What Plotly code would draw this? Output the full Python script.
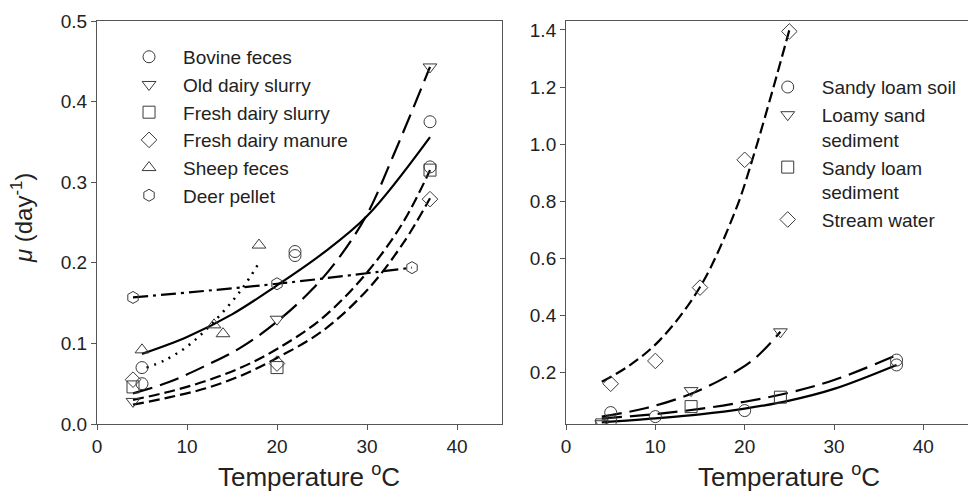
import plotly.graph_objects as go

# ---------------- Left panel: animal wastes ----------------
bovine_T = [5, 5, 22, 22, 37, 37]
bovine_mu = [0.070, 0.050, 0.214, 0.209, 0.375, 0.319]
old_slurry_T = [4, 20, 37]
old_slurry_mu = [0.028, 0.130, 0.443]
fresh_slurry_T = [4, 20, 37]
fresh_slurry_mu = [0.046, 0.070, 0.315]
fresh_manure_T = [4, 20, 37]
fresh_manure_mu = [0.055, 0.075, 0.279]
sheep_T = [5, 13, 14, 18]
sheep_mu = [0.092, 0.123, 0.112, 0.222]
deer_T = [4, 20, 35]
deer_mu = [0.157, 0.174, 0.194]

# fitted growth-rate curves (left)
bovine_fit_T = [5, 10, 15, 20, 25, 30, 37]
bovine_fit_mu = [0.087, 0.108, 0.136, 0.172, 0.211, 0.258, 0.356]
old_slurry_fit_T = [4, 8, 12, 16, 20, 24, 27, 30, 33, 37]
old_slurry_fit_mu = [0.038, 0.052, 0.072, 0.095, 0.127, 0.168, 0.208, 0.260, 0.335, 0.443]
fresh_slurry_fit_T = [4, 8, 12, 16, 20, 25, 30, 34, 37]
fresh_slurry_fit_mu = [0.030, 0.040, 0.053, 0.070, 0.093, 0.131, 0.188, 0.250, 0.315]
fresh_manure_fit_T = [4, 8, 12, 16, 20, 25, 30, 34, 37]
fresh_manure_fit_mu = [0.024, 0.033, 0.044, 0.060, 0.082, 0.115, 0.166, 0.224, 0.280]
sheep_fit_T = [5.5, 7.5, 10, 13, 16, 18]
sheep_fit_mu = [0.070, 0.079, 0.096, 0.127, 0.166, 0.200]
deer_fit_T = [4, 20, 35]
deer_fit_mu = [0.157, 0.174, 0.194]

# ---------------- Right panel: soils, sediments, water ----------------
soil_T = [5, 5, 10, 20, 37, 37]
soil_mu = [0.059, 0.030, 0.045, 0.066, 0.243, 0.226]
loamy_T = [4, 14, 24]
loamy_mu = [0.020, 0.136, 0.342]
sediment_T = [4, 14, 24]
sediment_mu = [0.016, 0.080, 0.113]
stream_T = [5, 10, 15, 20, 25]
stream_mu = [0.160, 0.240, 0.497, 0.945, 1.395]

soil_fit_T = [4, 10, 15, 20, 25, 30, 37]
soil_fit_mu = [0.025, 0.039, 0.053, 0.073, 0.101, 0.142, 0.226]
loamy_fit_T = [4, 9, 14, 18, 21, 24]
loamy_fit_mu = [0.045, 0.075, 0.125, 0.185, 0.245, 0.342]
sediment_fit_T = [4, 10, 15, 20, 25, 30, 37]
sediment_fit_mu = [0.038, 0.054, 0.072, 0.097, 0.129, 0.173, 0.260]
stream_fit_T = [4, 7, 10.5, 15, 19, 21, 23.2, 25]
stream_fit_mu = [0.167, 0.222, 0.313, 0.499, 0.770, 0.960, 1.197, 1.400]

left_names = ["Bovine feces", "Old dairy slurry", "Fresh dairy slurry",
              "Fresh dairy manure", "Sheep feces", "Deer pellet"]
right_names = ["Sandy loam soil", "Loamy sand<br>sediment",
               "Sandy loam<br>sediment", "Stream water"]

FONT = "Liberation Sans, Arial, sans-serif"
INK = "#222222"
MARK = "#3a3a3a"
AXIS = "#555555"

LONG = "20px,8px"
MED = "11px,5px"
DASHDOT = "15px,5px,3px,5px"
DOT = "2px,6px"

fig = go.Figure()


def add_fit(T, mu, dash, xa, ya, width=2.2):
    fig.add_trace(go.Scatter(
        x=T, y=mu, mode="lines", xaxis=xa, yaxis=ya, showlegend=False,
        line=dict(color="black", width=width, dash=dash, shape="spline", smoothing=1.0),
        hoverinfo="skip"))


def add_points(T, mu, name, symbol, xa, ya, legend):
    fig.add_trace(go.Scatter(
        x=T, y=mu, mode="markers", name=name, xaxis=xa, yaxis=ya, legend=legend,
        marker=dict(symbol=symbol, size=12, color=MARK, line=dict(color=MARK, width=1))))


# left fitted curves
add_fit(bovine_fit_T, bovine_fit_mu, "solid", "x", "y")
add_fit(old_slurry_fit_T, old_slurry_fit_mu, LONG, "x", "y")
add_fit(fresh_slurry_fit_T, fresh_slurry_fit_mu, MED, "x", "y")
add_fit(fresh_manure_fit_T, fresh_manure_fit_mu, MED, "x", "y")
add_fit(sheep_fit_T, sheep_fit_mu, DOT, "x", "y", width=2.5)
add_fit(deer_fit_T, deer_fit_mu, DASHDOT, "x", "y")

# left observations
add_points(bovine_T, bovine_mu, left_names[0], "circle-open", "x", "y", "legend")
add_points(old_slurry_T, old_slurry_mu, left_names[1], "triangle-down-open", "x", "y", "legend")
add_points(fresh_slurry_T, fresh_slurry_mu, left_names[2], "square-open", "x", "y", "legend")
add_points(fresh_manure_T, fresh_manure_mu, left_names[3], "diamond-open", "x", "y", "legend")
add_points(sheep_T, sheep_mu, left_names[4], "triangle-up-open", "x", "y", "legend")
add_points(deer_T, deer_mu, left_names[5], "hexagon-open", "x", "y", "legend")

# right fitted curves
add_fit(soil_fit_T, soil_fit_mu, "solid", "x2", "y2")
add_fit(loamy_fit_T, loamy_fit_mu, LONG, "x2", "y2")
add_fit(sediment_fit_T, sediment_fit_mu, LONG, "x2", "y2")
add_fit(stream_fit_T, stream_fit_mu, MED, "x2", "y2")

# right observations
add_points(soil_T, soil_mu, right_names[0], "circle-open", "x2", "y2", "legend2")
add_points(loamy_T, loamy_mu, right_names[1], "triangle-down-open", "x2", "y2", "legend2")
add_points(sediment_T, sediment_mu, right_names[2], "square-open", "x2", "y2", "legend2")
add_points(stream_T, stream_mu, right_names[3], "diamond-open", "x2", "y2", "legend2")

axis_common = dict(
    showline=True, linecolor=AXIS, linewidth=1,
    ticks="outside", ticklen=5, tickcolor=AXIS, tickwidth=1,
    showgrid=False, zeroline=False,
    tickfont=dict(family=FONT, size=19, color=INK),
)

legend_common = dict(
    xanchor="left", yanchor="top",
    font=dict(family=FONT, size=19, color=INK),
    bgcolor="rgba(0,0,0,0)", borderwidth=0, tracegroupgap=0,
    itemwidth=58, valign="top",
)

fig.update_layout(
    width=968, height=500,
    margin=dict(l=97, r=0, t=21, b=76, pad=0),
    paper_bgcolor="white", plot_bgcolor="white",
    font=dict(family=FONT, color=INK),
    xaxis=dict(domain=[0, 0.465], range=[0, 45], tickvals=[0, 10, 20, 30, 40],
               anchor="y", mirror=True, **axis_common),
    yaxis=dict(domain=[0, 1], range=[0, 0.5], tickvals=[0, 0.1, 0.2, 0.3, 0.4, 0.5],
               tickformat=".1f", anchor="x", mirror=True, **axis_common),
    xaxis2=dict(domain=[0.5385, 1], range=[0, 45], tickvals=[0, 10, 20, 30, 40],
                anchor="y2", mirror=True, **axis_common),
    yaxis2=dict(domain=[0, 1], range=[0.019, 1.4315],
                tickvals=[0.2, 0.4, 0.6, 0.8, 1.0, 1.2, 1.4],
                tickformat=".1f", anchor="x2", mirror=False, **axis_common),
    legend=dict(x=0.0207, y=0.958, **legend_common),
    legend2=dict(x=0.754, y=0.883, **legend_common),
    showlegend=True,
)

title_font = dict(family=FONT, size=26, color=INK)
fig.add_annotation(text="Temperature <sup>o</sup>C", xref="x", yref="paper",
                   x=23.6, y=-0.1266, xanchor="center", yanchor="middle",
                   showarrow=False, font=title_font)
fig.add_annotation(text="Temperature <sup>o</sup>C", xref="x2", yref="paper",
                   x=25.0, y=-0.1266, xanchor="center", yanchor="middle",
                   showarrow=False, font=title_font)
fig.add_annotation(text="<i>μ</i> (day<sup>-1</sup>)", xref="paper", yref="paper",
                   x=-0.0861, y=0.511, xanchor="center", yanchor="middle",
                   textangle=-90, showarrow=False,
                   font=dict(family=FONT, size=24, color=INK))

fig.write_html("out.html")
